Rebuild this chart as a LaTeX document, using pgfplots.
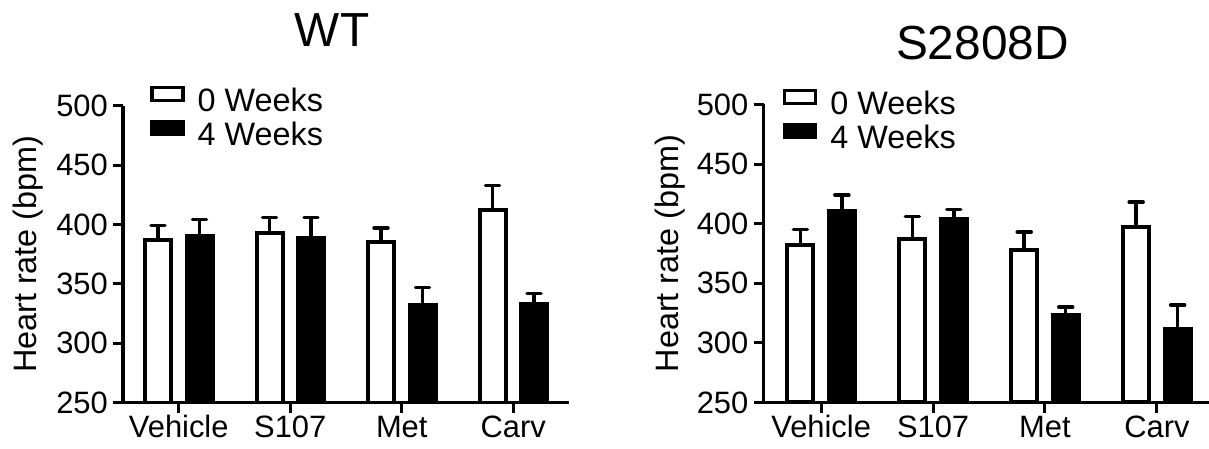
\documentclass[border=0pt]{standalone}
\usepackage{fontspec}
\setmainfont{Liberation Sans}
\usepackage{pgfplots}
\pgfplotsset{compat=1.18}
\pgfplotsset{
  hr/.style={
    scale only axis, width=446bp,
    ymin=250, ymax=500, ytick={250,300,...,500},
    xtick={0,1,2,3}, xticklabels={Vehicle,S107,Met,Carv},
    axis x line=bottom, axis y line=left,
    axis line style={line width=3.5bp,-},
    tick align=outside, major tick length=10bp,
    tick style={line width=3bp, black},
    /pgf/number format/assume math mode=true,
    ticklabel style={font=\fontsize{31}{31}\selectfont, inner sep=0pt},
    yticklabel style={xshift=-5bp},
    xticklabel style={yshift=-3bp, text height=22bp, text depth=0bp},
    ylabel={Heart rate (bpm)},
    ylabel style={font=\fontsize{32.5}{32.5}\selectfont, anchor=base},
    title style={font=\fontsize{48}{48}\selectfont, anchor=base, inner sep=0pt},
    legend style={draw=none, fill=none, anchor=north west,
      font=\fontsize{32.5}{32.5}\selectfont, inner sep=0pt,
      row sep=7bp, column sep=13bp, nodes={inner sep=0pt}},
    legend cell align=left,
    ybar, bar width=26bp,
  },
  leg/.style={legend image code/.code={\draw[draw=black, line width=3.5bp, ##1] (0bp,0bp) rectangle (31bp,13bp);}},
  wk0/.style={draw=black, fill=white, line width=4bp, bar shift=-20.75bp,
    leg,
    error bars/.cd, y dir=plus, y explicit, error mark=|,
    error bar style={line width=3.5bp, black},
    error mark options={line width=3.5bp, mark size=7bp, black, line cap=round}},
  wk4/.style={draw=black, fill=black, line width=4bp, bar shift=20.75bp,
    leg,
    error bars/.cd, y dir=plus, y explicit, error mark=|,
    error bar style={line width=3.5bp, black},
    error mark options={line width=3.5bp, mark size=7bp, black, line cap=round}},
}
\begin{document}
\begin{tikzpicture}
\useasboundingbox (0,0) rectangle (1209bp,449bp);
% WT
\begin{axis}[hr, at={(123bp,46.3bp)}, anchor=south west, height=297bp,
  xmin=-0.5, xmax=3.5,
  ylabel style={at={(axis description cs:-0.194,0.5)}},
  title={WT}, title style={at={(axis description cs:0.469,1)}, yshift=53bp},
  legend style={at={(axis description cs:0.0605,1.068)}}]
\addplot[wk0] coordinates {(0,387) +- (0,12) (1,393) +- (0,13) (2,385) +- (0,12) (3,412) +- (0,21)};
\addlegendentry{0 Weeks}
\addplot[wk4] coordinates {(0,390) +- (0,14) (1,389) +- (0,17) (2,332) +- (0,15) (3,333) +- (0,9)};
\addlegendentry{4 Weeks}
\end{axis}
% S2808D
\begin{axis}[hr, at={(763.5bp,46.5bp)}, anchor=south west, height=298bp,
  xmin=-0.515, xmax=3.47,
  ylabel style={at={(axis description cs:-0.19,0.5)}},
  title={S2808D}, title style={at={(axis description cs:0.491,1)}, yshift=39bp},
  legend style={at={(axis description cs:0.043,1.054)}}]
\addplot[wk0] coordinates {(0,382) +- (0,13) (1,387) +- (0,19) (2,378) +- (0,15) (3,397) +- (0,21)};
\addlegendentry{0 Weeks}
\addplot[wk4] coordinates {(0,411) +- (0,13) (1,404) +- (0,8) (2,323) +- (0,7) (3,312) +- (0,20)};
\addlegendentry{4 Weeks}
\end{axis}
\end{tikzpicture}
\end{document}
